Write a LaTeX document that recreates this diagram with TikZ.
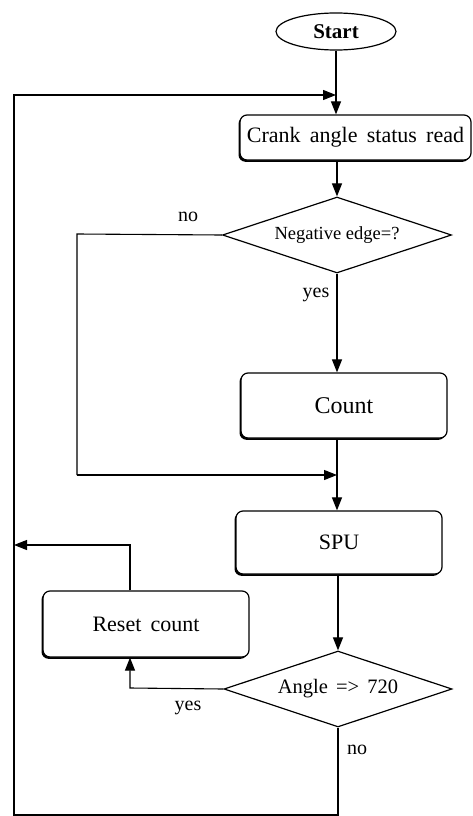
\documentclass[tikz,border=0pt]{standalone}
\usepackage{fontspec}
\setmainfont{Liberation Serif}
\usetikzlibrary{shapes.geometric,arrows.meta,shadows}
\newcommand\bigtxt{\fontsize{22}{26}\selectfont\spaceskip=0.42em\relax}
\newcommand\cnttxt{\fontsize{24}{28}\selectfont}
\newcommand\angtxt{\fontsize{20.5}{24}\selectfont\spaceskip=0.4em\relax}
\newcommand\negtxt{\fontsize{18.5}{20}\selectfont}
\newcommand\lbltxt{\fontsize{20}{24}\selectfont}
\newcommand\starttxt{\fontsize{21}{24}\selectfont\bfseries}
\begin{document}
\begin{tikzpicture}[x=1pt,y=-1pt,
  line width=1.1pt,
  arr/.style={-{Triangle[length=13pt,width=10pt]}},
  box/.style={draw, rounded corners=7pt, line width=1.2pt, minimum width=206pt,
    inner sep=0pt, font=\bigtxt, fill=white,
    general shadow={shadow xshift=-1.5pt, shadow yshift=-1.8pt, fill=black}},
  dia/.style={diamond, draw, aspect=3, inner sep=0pt, line width=1.2pt},
  lbl/.style={font=\lbltxt, inner sep=0pt}
]
\useasboundingbox (0,0) rectangle (473,816);

\node[ellipse, draw, line width=1.2pt, minimum width=120pt, minimum height=37pt, inner sep=0pt,
  font=\starttxt] (start) at (336,31.5) {Start};
\node[box, minimum width=231pt, minimum height=45pt] (crank) at (355.5,137.5) {Crank angle status read};
\node[dia, minimum width=229pt, minimum height=76pt, font=\negtxt] (neg) at (337,235) {Negative edge=?};
\node[box, minimum height=65pt, font=\cnttxt] (count) at (344,405.5) {Count};
\node[box, minimum height=63pt] (spu) at (339,542.5) {SPU};
\node[box, minimum height=66pt] (reset) at (146,624) {Reset count};
\node[dia, minimum width=228pt, minimum height=76pt, font=\angtxt] (angle) at (338,689) {Angle => 720};

\node[lbl] (no1) at (188,217) {no};
\node[lbl] (yes1) at (316,295) {yes};
\node[lbl] (yes2) at (188,708) {yes};
\node[lbl] (no2) at (357,750) {no};

\coordinate (tl) at (14,95);
\coordinate (bl) at (14,815);
\coordinate (nl) at (77,234);
\coordinate (nm) at (77,475);
\coordinate (rl) at (130,688);
\coordinate (ru) at (130,545);

\draw[arr] (start.south) -- (start.south |- crank.north);
\draw[arr] (crank.south -| neg.north) -- (neg.north);
\draw (neg.west) -- (nl) -- (nm);
\draw[arr] (nm) -- (nm -| neg.south);
\draw[arr] (neg.south) -- (neg.south |- count.north);
\draw[arr] (count.south -| neg.south) -- (spu.north -| neg.south);
\draw[arr] (spu.south -| angle.north) -- (angle.north);
\draw[arr] (angle.west) -- (rl) -- (reset.south -| rl);
\draw[arr] (reset.north -| rl) -- (ru) -- (ru -| tl);
\draw[arr] (angle.south) -- (angle.south |- bl) -- (bl) -- (tl) -- (tl -| start.south);
\end{tikzpicture}
\end{document}
